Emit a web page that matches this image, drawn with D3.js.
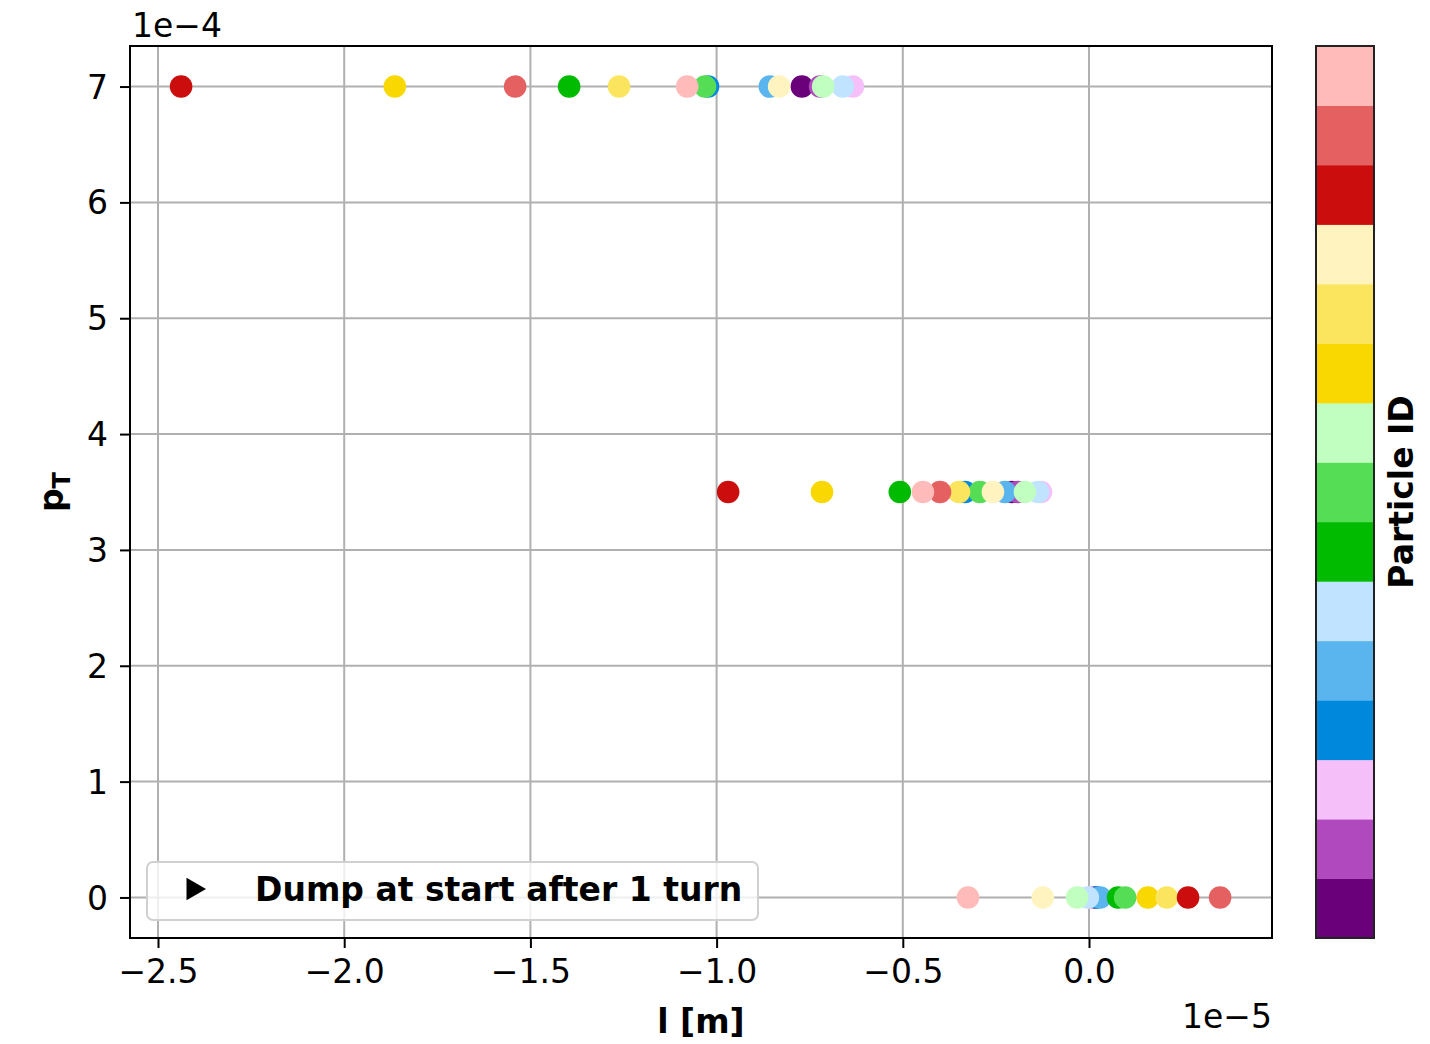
<!DOCTYPE html>
<html>
<head>
<meta charset="utf-8">
<script src="https://cdn.jsdelivr.net/npm/d3@7"></script>
<style>
  body { margin: 0; background: #fff; }
  text { font-family: "DejaVu Sans", sans-serif; }
</style>
</head>
<body>
<svg id="chart" width="1430" height="1044"></svg>
<script>
// Particle IDs and their colours (colorbar from bottom to top)
const particleIds = [0,1,2,3,4,5,6,7,8,9,10,11,12,13,14];
const particleColors = ["#6b007b","#b048be","#f5c0fa","#0088dd","#5ab4ee","#c0e4ff",
                        "#00bb00","#55dd55","#c0ffc0","#f8d800","#fbe55f","#fff4c0",
                        "#cc0d0d","#e56060","#ffbaba"];
// pT levels (units of 1e-4)
const pTLevels = [7.0, 3.5, 0.0];
// l positions (units of 1e-5 m), indexed by particle ID, one array per pT level
const lAtPT7  = [-0.771,-0.722,-0.634,-1.023,-0.857,-0.661,-1.396,-1.031,-0.714,-1.864,-1.262,-0.832,-2.438,-1.541,-1.079];
const lAtPT35 = [-0.207,-0.191,-0.129,-0.333,-0.226,-0.137,-0.508,-0.293,-0.172,-0.717,-0.349,-0.258,-0.969,-0.400,-0.446];
const lAtPT0  = [ 0.016, 0.011, 0.003, 0.021, 0.030,-0.003, 0.078, 0.097,-0.032, 0.158, 0.209,-0.124, 0.266, 0.352,-0.325];
const xTicks = [-2.5,-2.0,-1.5,-1.0,-0.5,0.0];
const yTicks = [0,1,2,3,4,5,6,7];
const legendLabel = "Dump at start after 1 turn";

const FS = 33;
const svg = d3.select("#chart");
const L = 130, R = 1272, T = 46, B = 938;
const x = d3.scaleLinear().domain([-2.5752, 0.4914]).range([L, R]);
const y = d3.scaleLinear().domain([-0.35, 7.35]).range([B, T]);

const rows = [lAtPT7, lAtPT35, lAtPT0];
const points = [];
rows.forEach((arr, ri) => {
  particleIds.forEach(id => points.push({l: arr[id], pt: pTLevels[ri], id}));
});

// grid
const g = svg.append("g");
g.selectAll(".gx").data(xTicks).join("line")
  .attr("x1", d => x(d)).attr("x2", d => x(d)).attr("y1", T).attr("y2", B)
  .attr("stroke", "#b0b0b0").attr("stroke-width", 2);
g.selectAll(".gy").data(yTicks).join("line")
  .attr("y1", d => y(d)).attr("y2", d => y(d)).attr("x1", L).attr("x2", R)
  .attr("stroke", "#b0b0b0").attr("stroke-width", 2);

// points
svg.append("g").selectAll("circle").data(points).join("circle")
  .attr("cx", d => x(d.l)).attr("cy", d => y(d.pt)).attr("r", 11.3)
  .attr("fill", d => particleColors[d.id]);

// axes
const fmtX = d3.format(".1f");
const xAxis = d3.axisBottom(x).tickValues(xTicks).tickFormat(fmtX).tickSize(10).tickPadding(12);
const yAxis = d3.axisLeft(y).tickValues(yTicks).tickFormat(d3.format("d")).tickSize(10).tickPadding(12);
const xa = svg.append("g").attr("transform", `translate(0,${B})`).call(xAxis);
const ya = svg.append("g").attr("transform", `translate(${L},0)`).call(yAxis);
[xa, ya].forEach(a => {
  a.select(".domain").remove();
  a.selectAll(".tick line").attr("stroke", "#000").attr("stroke-width", 2);
  a.selectAll(".tick text").attr("font-size", FS).attr("fill", "#000")
    .attr("font-family", "DejaVu Sans, sans-serif");
});
xa.selectAll(".tick text").attr("dy", "0.71em");
ya.selectAll(".tick text").attr("dy", "0.35em");

// frame
svg.append("rect").attr("x", L).attr("y", T).attr("width", R - L).attr("height", B - T)
  .attr("fill", "none").attr("stroke", "#000").attr("stroke-width", 2);

// offset texts
svg.append("text").attr("x", R).attr("y", 1028).attr("text-anchor", "end")
  .attr("font-size", FS).text("1e\u22125");
svg.append("text").attr("x", L + 2).attr("y", 37).attr("text-anchor", "start")
  .attr("font-size", FS).text("1e\u22124");

// axis labels
svg.append("text").attr("x", 701).attr("y", 1033).attr("text-anchor", "middle")
  .attr("font-size", FS).attr("font-weight", "bold").text("l [m]");
const yl = svg.append("text").attr("transform", `translate(63,${(T + B) / 2}) rotate(-90)`)
  .attr("text-anchor", "middle").attr("font-size", FS).attr("font-weight", "bold");
yl.append("tspan").text("p");
yl.append("tspan").attr("font-size", 24).attr("dy", 7).text("T");

// legend
const lg = svg.append("g");
lg.append("rect").attr("x", 147).attr("y", 862).attr("width", 611).attr("height", 58)
  .attr("rx", 6).attr("fill", "#fff").attr("fill-opacity", 0.8)
  .attr("stroke", "#d0d0d0").attr("stroke-width", 2);
lg.append("path").attr("d", d3.symbol(d3.symbolTriangle, 220)())
  .attr("transform", "translate(193,889) rotate(90)").attr("fill", "#000");
lg.append("text").attr("x", 255).attr("y", 901).attr("font-size", FS)
  .attr("font-weight", "bold").text(legendLabel);

// colorbar
const cbL = 1316, cbR = 1374;
const cy = d3.scaleLinear().domain([0, particleIds.length]).range([B, T]);
svg.append("g").selectAll("rect").data(particleIds).join("rect")
  .attr("x", cbL).attr("width", cbR - cbL)
  .attr("y", d => cy(d + 1)).attr("height", d => cy(d) - cy(d + 1) + 0.5)
  .attr("fill", d => particleColors[d]);
svg.append("rect").attr("x", cbL).attr("y", T).attr("width", cbR - cbL).attr("height", B - T)
  .attr("fill", "none").attr("stroke", "#222").attr("stroke-width", 2);
svg.append("text").attr("transform", `translate(1413,${(T + B) / 2}) rotate(-90)`)
  .attr("text-anchor", "middle").attr("font-size", FS).attr("font-weight", "bold")
  .text("Particle ID");
</script>
</body>
</html>
